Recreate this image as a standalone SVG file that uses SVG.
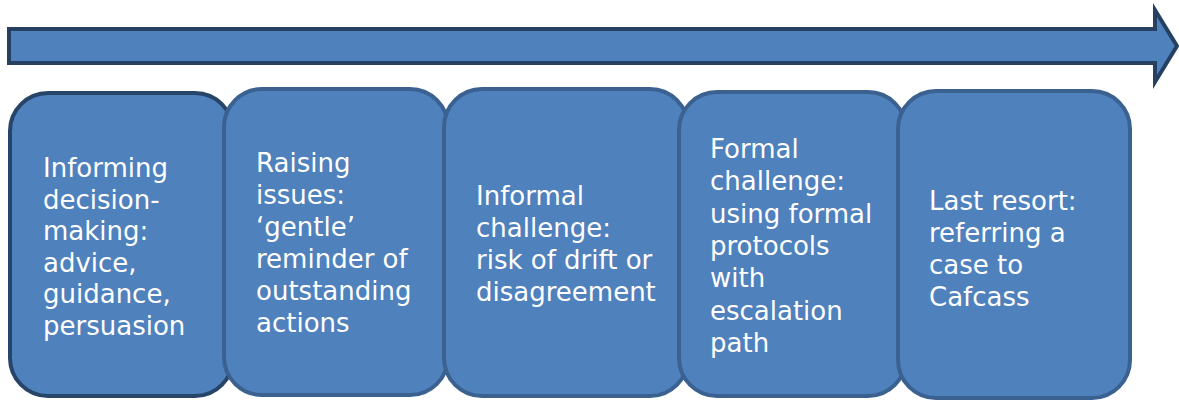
<svg xmlns="http://www.w3.org/2000/svg" width="1179" height="400" viewBox="0 0 1179 400">
<style>
.box{fill:#4F81BD;stroke:#3A6190;stroke-width:4}
.box1{stroke:#274469}
.arrow{fill:#4F81BD;stroke:#254061;stroke-width:4;stroke-linejoin:miter}
.t{font-family:"DejaVu Sans",Verdana,sans-serif;font-size:26px;fill:#FFFFFF}
</style>
<rect width="1179" height="400" fill="#FFFFFF"/>
<g id="connectors">
<path class="arrow" d="M9,29 L1155,29 L1155,10 L1177,46 L1155,82 L1155,63 L9,63 Z"/>
</g>
<g id="node1">
<rect class="box box1" x="10" y="93" width="223" height="303" rx="38" ry="38"/>
<text class="t" x="43" y="177">Informing</text>
<text class="t" x="43" y="208.6">decision-</text>
<text class="t" x="43" y="240.2">making:</text>
<text class="t" x="43" y="271.8">advice,</text>
<text class="t" x="43" y="303.4">guidance,</text>
<text class="t" x="43" y="335">persuasion</text>
</g>
<g id="node2">
<rect class="box" x="224" y="89" width="224" height="306" rx="38" ry="38"/>
<text class="t" x="256" y="172">Raising</text>
<text class="t" x="256" y="204">issues:</text>
<text class="t" x="256" y="236">‘gentle’</text>
<text class="t" x="256" y="268">reminder of</text>
<text class="t" x="256" y="300">outstanding</text>
<text class="t" x="256" y="332">actions</text>
</g>
<g id="node3">
<rect class="box" x="444" y="89" width="244" height="307" rx="38" ry="38"/>
<text class="t" x="476" y="205">Informal</text>
<text class="t" x="476" y="237">challenge:</text>
<text class="t" x="476" y="269">risk of drift or</text>
<text class="t" x="476" y="301">disagreement</text>
</g>
<g id="node4">
<rect class="box" x="679" y="92" width="227" height="304" rx="38" ry="38"/>
<text class="t" x="710" y="158">Formal</text>
<text class="t" x="710" y="190.3">challenge:</text>
<text class="t" x="710" y="222.6">using formal</text>
<text class="t" x="710" y="254.9">protocols</text>
<text class="t" x="710" y="287.2">with</text>
<text class="t" x="710" y="319.5">escalation</text>
<text class="t" x="710" y="351.8">path</text>
</g>
<g id="node5">
<rect class="box" x="898" y="91" width="232" height="307" rx="38" ry="38"/>
<text class="t" x="929" y="210">Last resort:</text>
<text class="t" x="929" y="242">referring a</text>
<text class="t" x="929" y="274">case to</text>
<text class="t" x="929" y="306">Cafcass</text>
</g>
</svg>
